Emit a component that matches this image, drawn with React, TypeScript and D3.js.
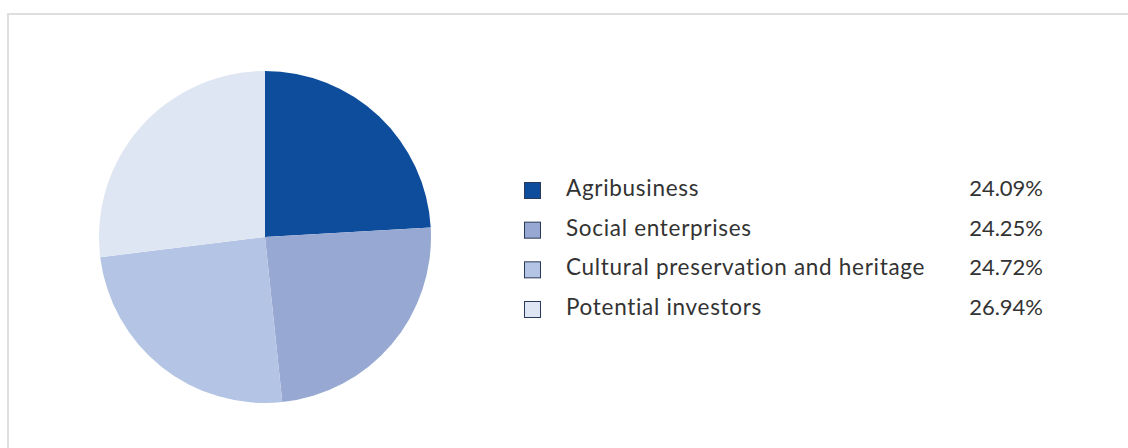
import React from "react";
import * as d3 from "d3";

const categories = [
  "Agribusiness",
  "Social enterprises",
  "Cultural preservation and heritage",
  "Potential investors",
];
const values = [24.09, 24.25, 24.72, 26.94];
const valueLabels = ["24.09%", "24.25%", "24.72%", "26.94%"];
const colors = ["#0e4c9c", "#97a9d3", "#b4c4e4", "#dfe6f3"];

const W = 1128;
const H = 448;
const cx = 265;
const cy = 237;
const radius = 166;
const font = "'Lato', 'Open Sans', sans-serif";

export default function App() {
  const pie = d3
    .pie<number>()
    .sort(null)
    .value((d) => d);
  const arcs = pie(values);
  const arcGen = d3.arc<d3.PieArcDatum<number>>().innerRadius(0).outerRadius(radius);

  const rowY = d3.scaleLinear().domain([0, 3]).range([196, 315]);

  return (
    <svg
      width={W}
      height={H}
      style={{ position: "absolute", left: 0, top: 0, background: "#fff" }}
    >
      <rect x={8} y={14} width={W + 20} height={H + 20} fill="#fff" stroke="#dedede" strokeWidth={2} />
      <g transform={`translate(${cx},${cy})`}>
        {arcs.map((a, i) => (
          <path key={i} d={arcGen(a) || ""} fill={colors[i]} stroke="none" />
        ))}
      </g>
      <g fontFamily={font} fill="#333">
        {categories.map((c, i) => {
          const y = rowY(i);
          return (
            <g key={c}>
              <rect
                x={524.5}
                y={y - 13.5}
                width={16}
                height={16}
                fill={colors[i]}
                stroke="#2a3a5a"
                strokeWidth={1}
              />
              <text x={566} y={y} fontSize={22.5} letterSpacing={0.7}>
                {c}
              </text>
              <text x={1043} y={y} fontSize={22} textAnchor="end">
                {valueLabels[i]}
              </text>
            </g>
          );
        })}
      </g>
    </svg>
  );
}
